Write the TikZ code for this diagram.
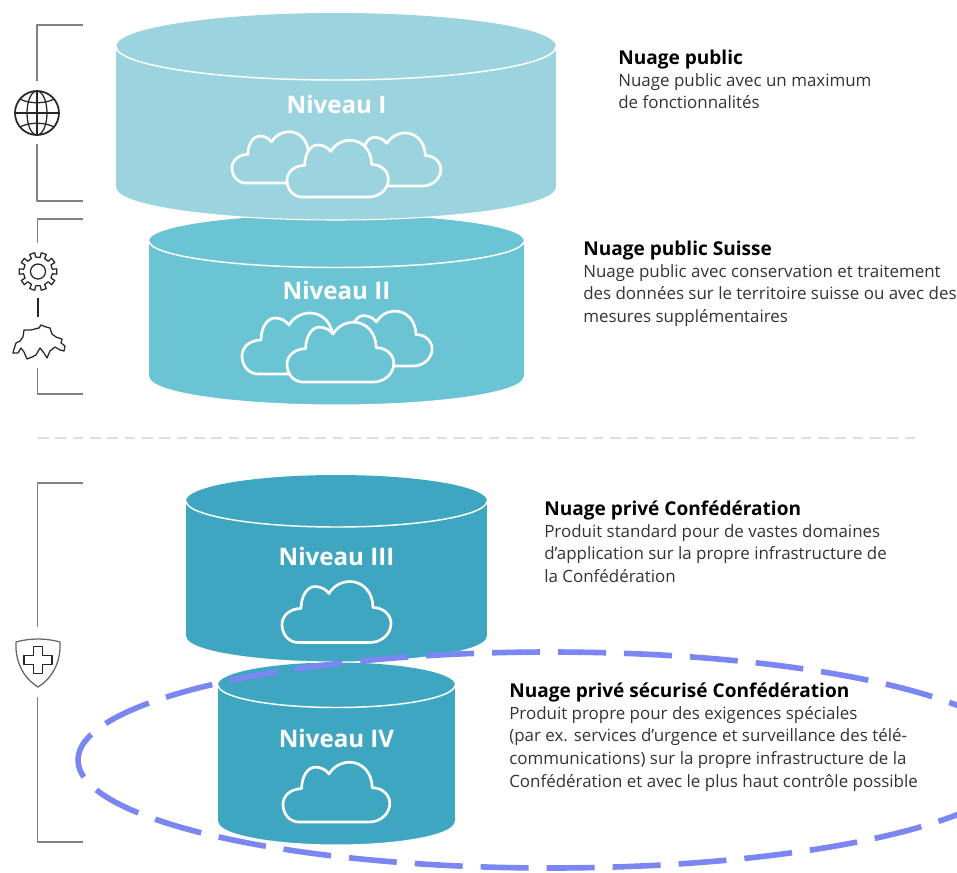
\documentclass[tikz,border=0pt]{standalone}
\usepackage{fontspec}
\setmainfont{Open Sans}
\definecolor{lvlone}{HTML}{9BD4DF}
\definecolor{lvltwo}{HTML}{6BC4D3}
\definecolor{lvlthree}{HTML}{3FA6C1}
\definecolor{ringblue}{HTML}{7C86F2}
\definecolor{bodytext}{HTML}{333333}
\tikzset{
	levellabel/.style={text=white,font=\fontsize{18.1}{20}\selectfont\bfseries},
	infotext/.style={anchor=north west,inner sep=0pt,align=left,text=bodytext,font=\fontsize{12.7}{16.9}\selectfont},
	bracketline/.style={draw=black!50,line width=1.2pt},
	iconline/.style={draw=black!85,line width=0.95pt,line join=round},
	pics/cloudicon/.style={code={
		\filldraw[draw=white,line width=2pt,fill=#1] (16,0) -- (88,0)
			.. controls (100,0) and (109,-9) .. (109,-19)
			.. controls (109,-28) and (101,-35) .. (91,-35)
			.. controls (91,-50) and (81,-61) .. (68,-61)
			.. controls (59,-61) and (51,-56) .. (47,-49)
			.. controls (44,-53) and (39,-56) .. (33,-56)
			.. controls (25,-56) and (19,-46) .. (19,-34)
			.. controls (8,-34) and (0,-27) .. (0,-18)
			.. controls (0,-8) and (7,0) .. (16,0) -- cycle;
	}}
}
\newcommand{\infohead}[1]{{\fontsize{14.3}{16.9}\selectfont\bfseries\color{black}#1}}
\begin{document}
\begin{tikzpicture}[
	x=0.75pt,
	y=-0.75pt,
	line cap=butt,
	line join=round
	]
	\useasboundingbox (0,0) rectangle (957,872);
	\foreach \cx/\rx/\ytop/\ryt/\ybot/\ryb/\col in {336.5/118.5/685/22.5/822/23/lvlthree,336.5/150.5/501/26/637/25/lvlthree,336.5/187.5/241/26.5/377/28/lvltwo,336/220/46.5/33.5/188/32/lvlone}{
		\fill[\col] (\cx-\rx,\ytop) rectangle (\cx+\rx,\ybot);
		\fill[\col] (\cx,\ytop) ellipse[x radius=\rx,y radius=\ryt];
		\fill[\col] (\cx,\ybot) ellipse[x radius=\rx,y radius=\ryb];
		\draw[white,line width=1.1pt] (\cx-\rx,\ytop) arc[start angle=180,end angle=0,x radius=\rx,y radius=\ryt];
		\draw[white,line width=0.8pt] (\cx-\rx,\ybot) arc[start angle=180,end angle=0,x radius=\rx,y radius=\ryb];
	}
	\pic[scale=0.87] at (346,186) {cloudicon=lvlone};
	\pic[scale=0.84] at (232,183) {cloudicon=lvlone};
	\pic[scale=0.93] at (287,197) {cloudicon=lvlone};
	\pic[scale=0.90] at (334,366) {cloudicon=lvltwo};
	\pic[scale=1.00] at (242,374) {cloudicon=lvltwo};
	\pic[scale=0.98] at (287,382) {cloudicon=lvltwo};
	\pic at (282,642.5) {cloudicon=lvlthree};
	\pic[scale=0.98] at (283,822) {cloudicon=lvlthree};
	\node[levellabel] (niveauI) at (336.5,104.5) {Niveau I};
	\node[levellabel] (niveauII) at (336.5,290.5) {Niveau II};
	\node[levellabel] (niveauIII) at (336.5,556.5) {Niveau III};
	\node[levellabel] (niveauIV) at (336.5,738.5) {Niveau IV};
	\node[infotext] (infoI) at (618,50) {\infohead{Nuage public}\\[-0.75pt]Nuage public avec un maximum\\de fonctionnalités};
	\node[infotext] (infoII) at (583,241) {\infohead{Nuage public Suisse}\\[-0.75pt]Nuage public avec conservation et traitement\\des données sur le territoire suisse ou avec des\\mesures supplémentaires};
	\node[infotext] (infoIII) at (544,501) {\infohead{Nuage privé Confédération}\\[-0.75pt]Produit standard pour de vastes domaines\\d’application sur la propre infrastructure de\\la Confédération};
	\node[infotext] (infoIV) at (509,683) {\infohead{Nuage privé sécurisé Confédération}\\[-0.75pt]Produit propre pour des exigences spéciales\\(par ex. services d’urgence et surveillance des télé-\\communications) sur la propre infrastructure de la\\Confédération et avec le plus haut contrôle possible};
	\coordinate (brIa) at (83,25);
	\coordinate (brIb) at (37,81);
	\coordinate (brIc) at (37,144);
	\coordinate (brId) at (83,201);
	\coordinate (brIIa) at (83,219);
	\coordinate (brIIb) at (37.5,243);
	\coordinate (brIIc) at (37.5,368);
	\coordinate (brIId) at (83,394);
	\coordinate (brIIIa) at (83,483);
	\coordinate (brIIIb) at (37.5,627);
	\coordinate (brIIIc) at (37.5,697);
	\coordinate (brIIId) at (83,842);
	\coordinate (linkA) at (38,298);
	\coordinate (linkB) at (38,317);
	\coordinate (splitA) at (38,438);
	\coordinate (splitB) at (916,438);
	\draw[bracketline] (brIa) -| (brIb);
	\draw[bracketline] (brIc) |- (brId);
	\draw[bracketline] (brIIa) -| (brIIb);
	\draw[bracketline] (brIIc) |- (brIId);
	\draw[bracketline] (brIIIa) -| (brIIIb);
	\draw[bracketline] (brIIIc) |- (brIIId);
	\draw[black!85,line width=1pt] (linkA) -- (linkB);
	\draw[black!13,line width=1.5pt,dash pattern=on 8pt off 5pt] (splitA) -- (splitB);
	\begin{scope}[shift={(37,113)},iconline]
		\draw[line width=1.3pt] (0,0) circle[radius=22];
		\draw (0,0) ellipse[x radius=10,y radius=22];
		\draw (0,-22) -- (0,22);
		\draw (-22,0) -- (22,0);
		\draw (-17,-14) .. controls (-8,-9) and (8,-9) .. (17,-14);
		\draw (-17,14) .. controls (-8,9) and (8,9) .. (17,14);
	\end{scope}
	\begin{scope}[shift={(38,271.5)},iconline]
		\draw (-9:14.5) \foreach \a in {0,36,...,324} {
			-- (\a-9:14.5) -- (\a-8:19) -- (\a+8:19) -- (\a+9:14.5)
		} -- cycle;
		\draw (0,0) circle[radius=7.5];
	\end{scope}
	\draw[iconline] (13,353) -- (14,349) -- (16,343) -- (20,341) -- (23,337) -- (24,330) -- (31,330) -- (39,328) -- (41,325) -- (46,327) -- (50,328) -- (52,334) -- (56,337) -- (62,339) -- (61,343) -- (65,346) -- (64,351) -- (60,350) -- (55,347) -- (50,351) -- (47,358) -- (44,353) -- (40,348) -- (36,355) -- (32,357) -- (27,359) -- (24,352) -- (21,348) -- (18,353) -- cycle;
	\begin{scope}[shift={(38,660)},iconline]
		\draw[draw=black!60] (-22,-18) .. controls (-8,-22) and (8,-22) .. (22,-18) .. controls (23,0) and (16,17) .. (0,27) .. controls (-16,17) and (-23,0) .. (-22,-18) -- cycle;
		\draw (-4.5,-13.5) -- (4.5,-13.5) -- (4.5,-4.5) -- (14,-4.5) -- (14,4.5) -- (4.5,4.5) -- (4.5,13.5) -- (-4.5,13.5) -- (-4.5,4.5) -- (-14,4.5) -- (-14,-4.5) -- (-4.5,-4.5) -- cycle;
	\end{scope}
	\draw[ringblue,line width=4.2pt,dash pattern=on 36pt off 13.5pt,dash phase=3.75pt] (550,760) ellipse[x radius=472,y radius=108];
\end{tikzpicture}
\end{document}
